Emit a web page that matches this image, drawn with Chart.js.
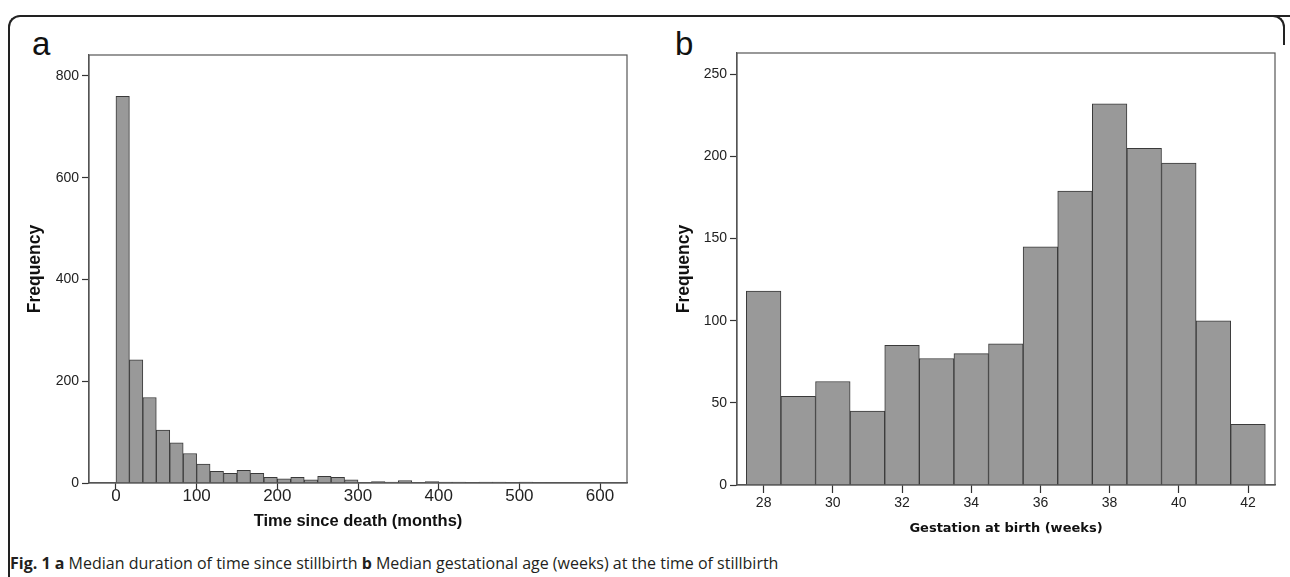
<!DOCTYPE html>
<html>
<head>
<meta charset="utf-8">
<script src="https://cdn.jsdelivr.net/npm/chart.js@4.4.1/dist/chart.umd.min.js"></script>
<style>
  body { margin: 0; background: #fff; width: 1290px; height: 577px; overflow: hidden; position: relative; }
  .frame { position: absolute; left: 8px; top: 15px; width: 1300px; height: 600px;
           border-top: 2px solid #222; border-left: 2px solid #222; border-top-left-radius: 12px; }
  .frame-tr { position: absolute; left: 1258px; top: 15px; width: 25px; height: 28px;
              border-top: 2px solid #222; border-right: 2px solid #222; border-top-right-radius: 12px; }
  .panel-letter { position: absolute; font-family: "Liberation Sans", Arial, sans-serif; font-size: 33px; line-height: 33px; color: #111; }
  canvas { position: absolute; }
  .caption { position: absolute; left: 10px; top: 552px; font-family: "Open Sans", sans-serif; font-size: 16px; color: #231f20; white-space: nowrap; }
  .caption b { font-weight: 700; }
</style>
</head>
<body>
<div class="frame"></div>
<div class="frame-tr"></div>
<div class="panel-letter" style="left:32px; top:27px;">a</div>
<div class="panel-letter" style="left:675px; top:27px;">b</div>
<canvas id="timeChart" width="645" height="540" style="left:0px; top:0px;"></canvas>
<canvas id="gestChart" width="640" height="545" style="left:650px; top:0px;"></canvas>
<div class="caption"><b>Fig. 1</b> <b>a</b> Median duration of time since stillbirth <b>b</b> Median gestational age (weeks) at the time of stillbirth</div>

<script>
// panel a: time since death, bins of 600/36 months
const timeBinWidth = 600 / 36;
const timeCounts = [760, 242, 168, 104, 79, 58, 37, 23, 19, 25, 19, 11,
                    8, 11, 6, 13, 11, 6, 1, 3, 2, 5, 1, 3,
                    2, 2, 1, 2, 2, 1, 2, 1, 0, 0, 1, 0];
const timeTicks = [0, 100, 200, 300, 400, 500, 600];
const timeFreqTicks = [0, 200, 400, 600, 800];

// panel b: gestation at birth, one bar per week
const weeks = [28, 29, 30, 31, 32, 33, 34, 35, 36, 37, 38, 39, 40, 41, 42];
const weekCounts = [118, 54, 63, 45, 85, 77, 80, 86, 145, 179, 232, 205, 196, 100, 37];
const weekTicks = [28, 30, 32, 34, 36, 38, 40, 42];
const weekFreqTicks = [0, 50, 100, 150, 200, 250];

const barFill = '#999999';
const barEdge = '#3a3a3a';
const axisColor = '#555555';

// draws the closed box around the plot area
const boxFrame = {
  id: 'boxFrame',
  afterDraw(chart) {
    const a = chart.chartArea;
    const ctx = chart.ctx;
    ctx.save();
    ctx.strokeStyle = axisColor;
    ctx.lineWidth = 1.2;
    ctx.strokeRect(a.left, a.top, a.right - a.left, a.bottom - a.top);
    ctx.restore();
  }
};

function fixedTicks(values) {
  return scale => { scale.ticks = values.map(v => ({ value: v })); };
}

function makeHistogram(id, cfg) {
  return new Chart(document.getElementById(id), {
    type: 'bar',
    data: {
      datasets: [{
        data: cfg.points,
        backgroundColor: barFill,
        borderColor: barEdge,
        borderWidth: 1,
        borderSkipped: 'start',
        barPercentage: 1,
        categoryPercentage: 1
      }]
    },
    options: {
      responsive: false,
      animation: false,
      layout: { padding: cfg.padding },
      plugins: { legend: { display: false }, tooltip: { enabled: false } },
      scales: {
        x: {
          type: 'linear',
          offset: false,
          min: cfg.xMin,
          max: cfg.xMax,
          afterBuildTicks: fixedTicks(cfg.xTicks),
          afterFit: s => { s.height = cfg.xAxisHeight; },
          border: { display: true, color: axisColor, width: 1.2 },
          grid: { drawOnChartArea: false, offset: false, tickLength: cfg.xTickLen, tickColor: '#333', tickWidth: 1.2 },
          ticks: {
            autoSkip: false, maxRotation: 0, padding: cfg.xTickPad,
            color: '#222', font: cfg.xTickFont,
            callback: v => v
          },
          title: {
            display: true, text: cfg.xTitle, color: '#111',
            font: cfg.xTitleFont, padding: { top: 0, bottom: cfg.xTitlePad }
          }
        },
        y: {
          min: 0,
          max: cfg.yMax,
          afterBuildTicks: fixedTicks(cfg.yTicks),
          afterFit: s => { s.width = cfg.yAxisWidth; },
          border: { display: true, color: axisColor, width: 1.2 },
          grid: { drawOnChartArea: false, tickLength: 7, tickColor: '#333', tickWidth: 1.2 },
          ticks: {
            autoSkip: false, padding: 3,
            color: '#222', font: cfg.yTickFont,
            callback: v => v
          },
          title: {
            display: true, text: 'Frequency', color: '#111',
            font: { family: '"Liberation Sans", Arial, sans-serif', size: 17.5, weight: 'bold' },
            padding: { top: cfg.yTitlePad, bottom: 0 }
          }
        }
      }
    },
    plugins: [boxFrame]
  });
}

makeHistogram('timeChart', {
  points: timeCounts.map((c, i) => ({ x: (i + 0.5) * timeBinWidth, y: c })),
  padding: { top: 55, right: 18, left: 0, bottom: 0 },
  xMin: -33.4, xMax: 633.4,
  xTicks: timeTicks,
  yMax: 841,
  yTicks: timeFreqTicks,
  xAxisHeight: 57,
  yAxisWidth: 89,
  xTickLen: 6,
  xTickPad: -3,
  xTickFont: { family: '"Liberation Sans", Arial, sans-serif', size: 17 },
  yTickFont: { family: '"Liberation Sans", Arial, sans-serif', size: 14 },
  xTitle: 'Time since death (months)',
  xTitleFont: { family: '"Liberation Sans", Arial, sans-serif', size: 16.5, weight: 'bold' },
  xTitlePad: 9,
  yTitlePad: 25
});

makeHistogram('gestChart', {
  points: weeks.map((w, i) => ({ x: w, y: weekCounts[i] })),
  padding: { top: 53, right: 15, left: 0, bottom: 0 },
  xMin: 27.23, xMax: 42.78,
  xTicks: weekTicks,
  yMax: 263,
  yTicks: weekFreqTicks,
  xAxisHeight: 60,
  yAxisWidth: 87,
  xTickLen: 8,
  xTickPad: 2,
  xTickFont: { family: '"Liberation Sans", Arial, sans-serif', size: 14 },
  yTickFont: { family: '"Liberation Sans", Arial, sans-serif', size: 14 },
  xTitle: 'Gestation at birth (weeks)',
  xTitleFont: { family: '"DejaVu Sans", Verdana, sans-serif', size: 13, weight: 'bold' },
  xTitlePad: 9,
  yTitlePad: 24
});
</script>
</body>
</html>
